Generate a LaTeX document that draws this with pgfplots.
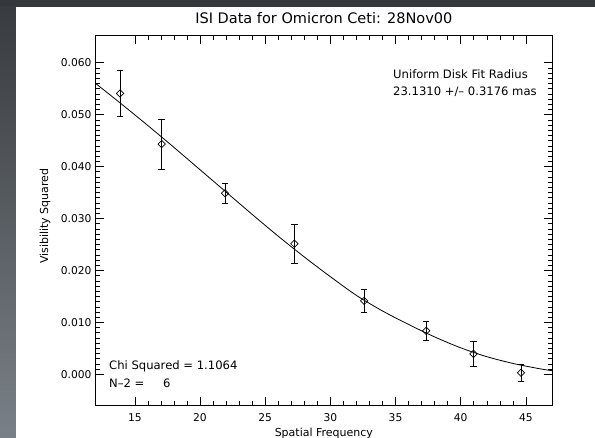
\documentclass[border=0pt]{standalone}
\usepackage{fontspec}
\setmainfont{DejaVu Sans}
\usepackage{pgfplots}
\usepackage{pgfplotstable}
\usetikzlibrary{backgrounds}
\pgfplotsset{compat=1.18}
\definecolor{bgdark}{RGB}{52,56,60}
\definecolor{bgtop}{RGB}{56,60,64}
\definecolor{bgbot}{RGB}{122,128,135}

\pgfplotstableread{
x      y        e
13.87  0.05408  0.00449
17.06  0.04433  0.00478
21.92  0.03485  0.00198
27.24  0.02515  0.00381
32.59  0.01413  0.00227
37.35  0.00837  0.00192
40.98  0.00394  0.00244
44.62  0.00030  0.00163
}\measured

\pgfplotstableread{
x   y
12  0.0560
14  0.0520
16  0.0479
18  0.0437
20  0.0394
22  0.0351
24  0.0308
26  0.0266
28  0.0226
30  0.0188
32  0.0152
34  0.0122
36  0.0096
38  0.0072
40  0.0051
42  0.0034
44  0.0021
46  0.0011
47  0.0007
}\fitcurve

\begin{document}
\begin{tikzpicture}
\begin{axis}[
  width=456.3pt, height=369.8pt, scale only axis,
  xmin=12, xmax=47, ymin=-0.006, ymax=0.0652,
  xtick={15,20,25,30,35,40,45},
  ytick={0,0.01,0.02,0.03,0.04,0.05,0.06},
  minor x tick num=4, minor y tick num=9,
  major tick length=8pt, minor tick length=4.5pt,
  tick align=inside,
  scaled y ticks=false,
  /pgf/number format/assume math mode=true,
  tick label style={font=\fontsize{10.7}{12}\selectfont, black},
  xticklabel style={yshift=-4.2pt},
  yticklabel style={xshift=-0.7pt, /pgf/number format/.cd, fixed, fixed zerofill, precision=3},
  axis line style={line width=0.8pt, black},
  every tick/.style={line width=0.6pt, black},
  title={ISI Data for Omicron Ceti: 28Nov00},
  title style={font=\fontsize{14.5}{16}\selectfont, at={(axis description cs:0.5,1.0154)}, anchor=base, yshift=0pt},
  xlabel={Spatial Frequency},
  xlabel style={font=\fontsize{11}{13}\selectfont, at={(axis description cs:0.5,-0.0825)}, anchor=base},
  ylabel={Visibility Squared},
  ylabel style={font=\fontsize{11}{13}\selectfont, at={(axis description cs:-0.1111,0.512)}, anchor=center},
  clip=true,
]
\addplot[black, line width=0.8pt, smooth, no marks] table[x=x, y=y] {\fitcurve};
\addplot[black, only marks, mark=square, mark size=2.6pt,
  mark options={rotate=45, solid, fill=white, line width=0.7pt},
  error bars/.cd, y dir=both, y explicit,
  error bar style={line width=0.7pt, black},
  error mark options={rotate=90, mark size=3.3pt, line width=0.7pt, black}]
  table[x=x, y=y, y error=e] {\measured};
\coordinate (LL) at (rel axis cs:0,0);
\end{axis}

\begin{scope}[shift={(LL)}, x=1pt, y=1pt]
\begin{scope}[on background layer]
\fill[bgdark] (-95.7,-32.5) rectangle (499.3,405.5);
\shade[top color=bgtop, bottom color=bgbot] (-95.7,-32.5) rectangle (-79.7,398.5);
\fill[white] (-79.7,-32.5) rectangle (499.3,398.5);
\end{scope}
\node[anchor=base west, inner sep=0, font=\fontsize{11.6}{14}\selectfont] at (297.3,327.2) {Uniform Disk Fit Radius};
\node[anchor=base west, inner sep=0, font=\fontsize{11.6}{14}\selectfont] at (297.3,309.5) {23.1310 +/\textendash\ 0.3176 mas};
\node[anchor=base west, inner sep=0, font=\fontsize{11.6}{14}\selectfont] at (13.3,35.5) {Chi Squared = 1.1064};
\node[anchor=base west, inner sep=0, font=\fontsize{11.6}{14}\selectfont] at (13.3,17.5) {N\textendash 2 =\hspace{1.6em}6};
\pgfresetboundingbox
\path[use as bounding box] (-95.7,-32.5) rectangle (499.3,405.5);
\end{scope}
\end{tikzpicture}
\end{document}
